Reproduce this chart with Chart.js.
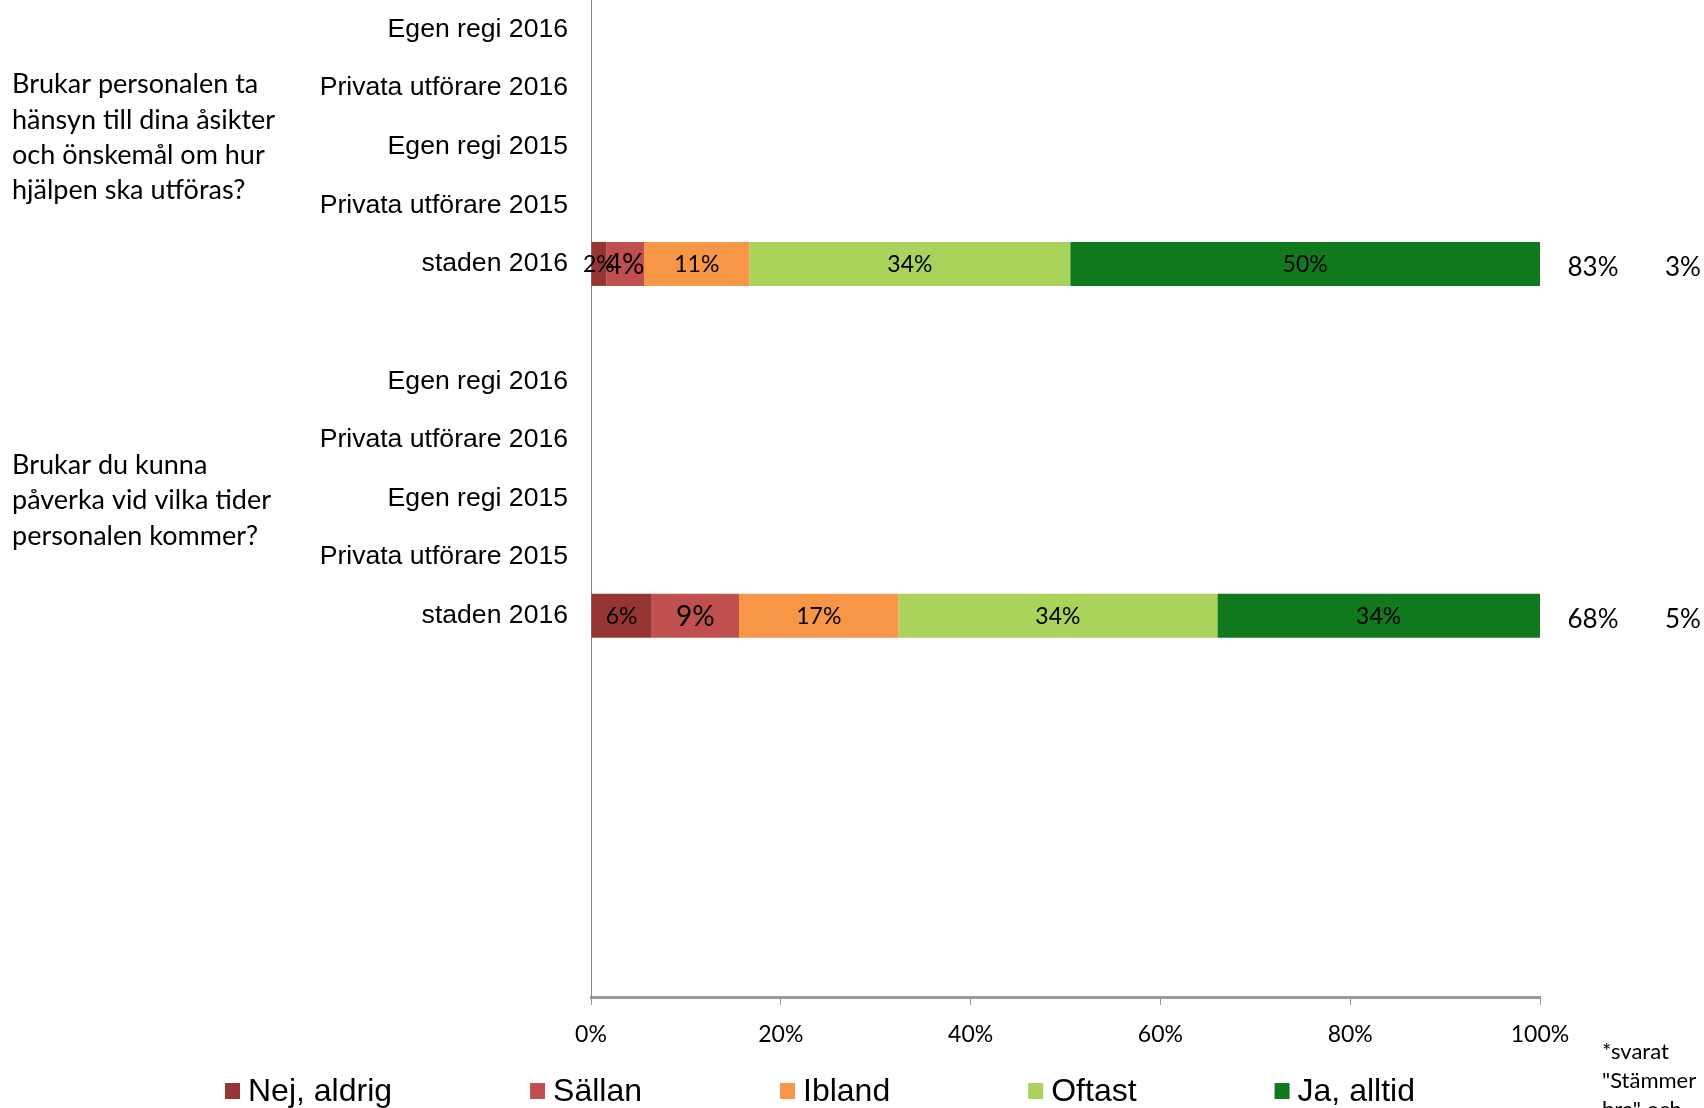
<!DOCTYPE html>
<html>
<head>
<meta charset="utf-8">
<script src="https://cdn.jsdelivr.net/npm/chart.js@4.4.1/dist/chart.umd.min.js"></script>
<style>
html,body{margin:0;padding:0;background:#fff;}
</style>
</head>
<body>
<canvas id="myChart" width="1704" height="1108"></canvas>
<script>
// categories (rows) top to bottom, last rows are empty
const categories = [
  "Egen regi 2016", "Privata utförare 2016", "Egen regi 2015", "Privata utförare 2015", "staden 2016",
  "",
  "Egen regi 2016", "Privata utförare 2016", "Egen regi 2015", "Privata utförare 2015", "staden 2016",
  "", "", "", "", "", ""
]
const _ = null
const nejAldrig = [_,_,_,_,1.6,_,_,_,_,_,6.4,_,_,_,_,_,_]
const sallan    = [_,_,_,_,4.0,_,_,_,_,_,9.2,_,_,_,_,_,_]
const ibland    = [_,_,_,_,11.1,_,_,_,_,_,16.8,_,_,_,_,_,_]
const oftast    = [_,_,_,_,33.8,_,_,_,_,_,33.6,_,_,_,_,_,_]
const jaAlltid  = [_,_,_,_,49.5,_,_,_,_,_,34.0,_,_,_,_,_,_]

// questions, row they belong to, and the two numbers at the right
const questions = [
  ["Brukar personalen ta", "hänsyn till dina åsikter", "och önskemål om hur", "hjälpen ska utföras?"],
  ["Brukar du kunna", "påverka vid vilka tider", "personalen kommer?"]
]
const questionRows = [4, 10]
const andelPositiva = [83, 68]
const vetEj = [3, 5]
const xTicks = [0, 20, 40, 60, 80, 100]
const noteLines = ["*svarat", "\"Stämmer", "bra\" och"]

const narrow = "Lato, 'Open Sans', sans-serif"
const arial = "'Liberation Sans', Arial, sans-serif"
const questionShift = [-9, 2]

const textPlugin = {
  id: "texts",
  afterDraw(chart) {
    const ctx = chart.ctx
    const y = chart.scales.y
    const area = chart.chartArea
    ctx.save()
    ctx.fillStyle = "#000"
    ctx.textBaseline = "middle"

    // labels inside the bars
    chart.data.datasets.forEach((ds, i) => {
      const meta = chart.getDatasetMeta(i)
      meta.data.forEach((bar, j) => {
        if (ds.data[j] == null) return
        ctx.font = ds.labelSize + "px " + narrow
        ctx.textAlign = "center"
        ctx.fillText(Math.round(ds.data[j]) + "%", (bar.x + bar.base) / 2, bar.y + 1)
      })
    })

    // questions + right side numbers
    questionRows.forEach((row, q) => {
      const mid = y.getPixelForValue(row - 2) + questionShift[q]
      const lines = questions[q]
      ctx.font = "27px " + narrow
      ctx.textAlign = "left"
      lines.forEach((l, k) => {
        ctx.fillText(l, 12, mid + (k - (lines.length - 1) / 2) * 35.4)
      })
      const by = y.getPixelForValue(row) + 4
      ctx.font = "26px " + narrow
      ctx.textAlign = "center"
      ctx.fillText(andelPositiva[q] + "%", area.right + 53, by)
      ctx.fillText(vetEj[q] + "%", area.right + 143, by)
    })

    // legend
    let lx = 225
    const ly = 1091
    chart.data.datasets.forEach((ds) => {
      ctx.fillStyle = ds.backgroundColor
      ctx.fillRect(lx, ly - 8, 15, 16)
      ctx.fillStyle = "#000"
      ctx.font = "32px " + arial
      ctx.textAlign = "left"
      ctx.fillText(ds.label, lx + 23, ly + 1)
      lx += 23 + ctx.measureText(ds.label).width + 138
    })

    // footnote
    ctx.font = "22px " + narrow
    noteLines.forEach((l, k) => ctx.fillText(l, 1602, 1052 + k * 29))
    ctx.restore()
  }
}

let ctx = document.getElementById("myChart")
let chart = new Chart(ctx, {
  type: "bar",
  data: {
    labels: categories,
    datasets: [
      { label: "Nej, aldrig", data: nejAldrig, backgroundColor: "#963634", labelSize: 23 },
      { label: "Sällan", data: sallan, backgroundColor: "#C0504D", labelSize: 28 },
      { label: "Ibland", data: ibland, backgroundColor: "#F79646", labelSize: 23 },
      { label: "Oftast", data: oftast, backgroundColor: "#A9D35A", labelSize: 23 },
      { label: "Ja, alltid", data: jaAlltid, backgroundColor: "#10781D", labelSize: 23 }
    ]
  },
  options: {
    indexAxis: "y",
    responsive: false,
    animation: false,
    devicePixelRatio: 1,
    layout: { padding: { top: -6, right: 164, left: 0, bottom: 0 } },
    datasets: { bar: { categoryPercentage: 1, barPercentage: 0.75, borderWidth: 0 } },
    scales: {
      x: {
        stacked: true,
        min: 0,
        max: 100,
        afterBuildTicks: (s) => { s.ticks = xTicks.map(v => ({ value: v })) },
        afterFit: (s) => { s.height = 111; s.paddingLeft = 0; s.paddingRight = 0 },
        grid: { drawOnChartArea: false, drawTicks: true, tickLength: 8, color: "#999" },
        border: { color: "#9a9a9a", width: 3 },
        ticks: { padding: 16, color: "#000", font: { family: narrow, size: 23 }, callback: (v) => v + "%" }
      },
      y: {
        stacked: true,
        afterFit: (s) => { s.width = 591; s.paddingTop = 0; s.paddingBottom = 0 },
        grid: { display: true, drawOnChartArea: false, drawTicks: false },
        border: { color: "#888", width: 1 },
        ticks: { padding: 23, color: "#000", autoSkip: false, font: { family: arial, size: 26.6 } }
      }
    },
    plugins: {
      legend: { display: false },
      tooltip: { enabled: false }
    }
  },
  plugins: [textPlugin]
})
</script>
</body>
</html>
